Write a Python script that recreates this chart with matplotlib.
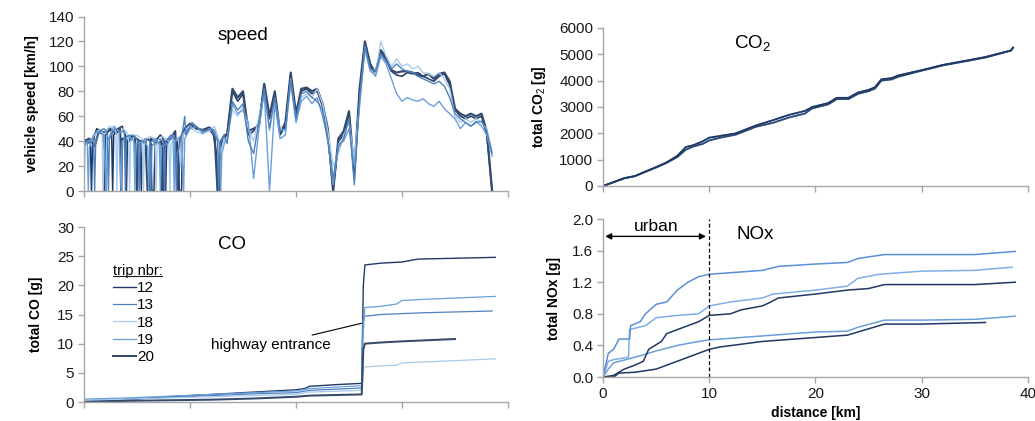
import numpy as np
import matplotlib
matplotlib.use("Agg")
import matplotlib.pyplot as plt
from matplotlib.lines import Line2D

plt.rcParams['font.family'] = ['Liberation Sans', 'DejaVu Sans']
plt.rcParams['mathtext.fontset'] = 'custom'
plt.rcParams['mathtext.rm'] = 'Liberation Sans'
plt.rcParams['mathtext.it'] = 'Liberation Sans:italic'
plt.rcParams['mathtext.bf'] = 'Liberation Sans:bold'

# trips and colours
trips = ["12", "13", "18", "19", "20"]
trip_colors = {"12": "#1f3864", "13": "#4f81bd", "18": "#a9cbec",
               "19": "#6a9fdc", "20": "#34496b"}
trip_widths = {"12": 1.1, "13": 1.0, "18": 1.0, "19": 1.0, "20": 1.6}

# speed, urban part (0 .. 13.3 km): (km, km/h) pairs, stops show as drops to 0
speed_urban = {
    "12": [(0, 40), (0.3, 38), (0.6, 40), (0.7, 0), (0.8, 35), (1.0, 45), (1.2, 50), (1.6, 48),
           (2.0, 47), (2.3, 50), (2.6, 48), (2.7, 0), (2.8, 45), (3.2, 50), (3.6, 52), (3.9, 45),
           (4.0, 0), (4.1, 40), (4.5, 44), (5.0, 42), (5.3, 40), (5.4, 0), (5.5, 38), (6.0, 42),
           (6.3, 40), (6.4, 0), (6.6, 0), (6.7, 40), (7.2, 45), (7.6, 40), (7.7, 0), (7.8, 38),
           (8.3, 44), (8.8, 40), (9.0, 0), (9.2, 0), (9.3, 45), (9.8, 50), (10.5, 52), (11.2, 48),
           (11.8, 50), (12.2, 45), (12.5, 30), (12.6, 0), (12.7, 0), (12.8, 35), (13.2, 42)],
    "13": [(0, 38), (0.4, 40), (0.9, 42), (1.0, 0), (1.1, 40), (1.5, 48), (1.9, 50), (2.2, 46),
           (2.3, 0), (2.4, 42), (2.9, 50), (3.4, 47), (3.8, 48), (3.9, 0), (4.0, 44), (4.6, 45),
           (5.1, 40), (5.2, 0), (5.3, 38), (5.8, 42), (6.2, 40), (6.3, 0), (6.4, 36), (7.0, 42),
           (7.5, 40), (7.6, 0), (7.7, 40), (8.2, 45), (8.6, 42), (8.7, 0), (8.8, 30), (9.3, 48),
           (9.5, 60), (9.6, 45), (10.2, 55), (10.8, 50), (11.4, 48), (12.0, 50), (12.6, 40),
           (12.7, 0), (12.8, 38), (13.2, 45)],
    "18": [(0, 0), (0.1, 38), (0.5, 40), (1.3, 48), (1.7, 50), (1.8, 0), (1.9, 45), (2.4, 52),
           (3.0, 48), (3.1, 0), (3.2, 45), (3.7, 50), (4.2, 45), (4.3, 0), (4.4, 40), (4.9, 45),
           (5.5, 42), (5.6, 0), (5.7, 40), (6.2, 44), (6.7, 42), (6.8, 0), (6.9, 38), (7.4, 44),
           (8.0, 40), (8.1, 0), (8.2, 38), (8.9, 42), (9.1, 20), (9.3, 45), (9.9, 52), (10.5, 48),
           (11.1, 46), (11.8, 48), (12.3, 52), (12.6, 45), (12.9, 30), (13.2, 42)],
    "19": [(0, 35), (0.3, 40), (0.4, 0), (0.5, 35), (0.9, 45), (1.3, 48), (1.9, 45), (2.1, 0),
           (2.2, 40), (2.8, 52), (3.3, 48), (3.5, 0), (3.6, 40), (4.2, 44), (4.7, 40), (4.8, 0),
           (4.9, 38), (5.6, 40), (6.0, 36), (6.1, 0), (6.2, 38), (6.7, 42), (7.1, 38), (7.2, 0),
           (7.3, 36), (7.9, 38), (8.4, 45), (8.5, 0), (8.6, 40), (9.2, 45), (9.4, 0), (9.5, 42),
           (10.0, 50), (10.6, 52), (11.2, 46), (11.8, 50), (12.3, 48), (12.8, 38), (12.9, 0),
           (13.0, 30), (13.3, 40)],
    "20": [(0, 40), (0.5, 42), (1.0, 36), (1.4, 48), (1.8, 45), (1.9, 0), (2.0, 45), (2.5, 50),
           (3.0, 46), (3.4, 50), (3.5, 0), (3.6, 42), (4.3, 40), (4.8, 44), (5.0, 0), (5.1, 40),
           (5.8, 40), (6.0, 0), (6.2, 0), (6.3, 42), (6.9, 38), (7.3, 40), (7.4, 0), (7.5, 38),
           (8.2, 42), (8.6, 48), (8.9, 0), (9.0, 40), (9.5, 50), (10.0, 54), (10.6, 50),
           (11.2, 49), (11.8, 51), (12.3, 48), (12.6, 0), (12.8, 0), (12.9, 40), (13.3, 45)],
}

# speed, rest of the trip sampled every 0.5 km (13.5 .. 38.5 km)
speed_rest_km = np.arange(13.5, 38.75, 0.5)
speed_rest = {
    "12": [45,
           80, 72, 78, 45, 48, 55, 85, 58, 78, 45, 52,
           93, 60, 80, 82, 78, 80, 68, 45, 0, 40, 45, 62, 10, 80,
           118, 100, 95, 112, 105, 96, 93, 92, 95, 94, 95, 92, 90, 88, 92, 94, 85,
           65, 60, 58, 60, 58, 60, 45, 0],
    "13": [38,
           72, 65, 70, 40, 30, 55, 82, 50, 75, 48, 50,
           88, 58, 78, 80, 75, 72, 65, 40, 10, 35, 42, 58, 5, 75,
           115, 98, 96, 110, 104, 98, 102, 98, 96, 95, 92, 90, 88, 86, 88, 84, 75,
           62, 58, 55, 52, 55, 56, 48, 30],
    "18": [42,
           65, 60, 68, 50, 40, 60, 78, 48, 72, 50, 48,
           85, 55, 75, 78, 75, 82, 70, 48, 20, 30, 45, 55, 25, 70,
           112, 96, 94, 120, 108, 100, 106, 100, 102, 98, 100, 95, 94, 92, 95, 90, 82,
           60, 55, 58, 55, 58, 55, 50, 32],
    "19": [40,
           70, 62, 65, 55, 10, 50, 80, 0, 70, 42, 45,
           90, 55, 72, 76, 70, 75, 60, 42, 5, 38, 40, 50, 20, 68,
           116, 97, 92, 108, 102, 90, 78, 72, 75, 73, 72, 74, 70, 68, 72, 66, 62,
           58, 50, 55, 52, 56, 52, 45, 28],
    "20": [45,
           82, 75, 80, 48, 50, 52, 86, 60, 80, 46, 55,
           95, 62, 82, 83, 80, 82, 70, 50, 0, 42, 48, 64, 15, 82,
           120, 102, 94, 113, 107, 97, 95, 96, 96, 95, 93, 92, 94, 90, 94, 95, 88,
           66, 62, 60, 62, 60, 62, 48, 0],
}

# cumulative CO [g]
co_km = {
    "12": [0, 4, 8, 12, 16, 20, 20.8, 21.3, 24, 26.2, 26.35, 26.5, 28, 30, 31.5, 34, 38.8],
    "13": [0, 4, 8, 12, 16, 20, 21.3, 26.2, 26.3, 26.5, 28, 32, 38.5],
    "18": [0, 4, 8, 12, 16, 20, 21.3, 26.2, 26.4, 28, 29.5, 30, 38.8],
    "19": [0, 4, 8, 12, 16, 20, 21.3, 26.2, 26.35, 26.5, 28, 29.5, 30, 32, 38.8],
    "20": [0, 4, 8, 12, 16, 20, 21.3, 26.2, 26.35, 26.5, 28, 30, 35],
}
co_total = {
    "12": [0.0, 0.4, 0.9, 1.3, 1.7, 2.1, 2.3, 2.7, 3.0, 3.2, 20.0, 23.5, 23.8, 24.0, 24.5, 24.6, 24.8],
    "13": [0.2, 0.5, 0.8, 1.1, 1.4, 1.6, 2.0, 2.4, 14.0, 14.7, 15.0, 15.3, 15.6],
    "18": [0.3, 0.5, 0.7, 0.9, 1.1, 1.3, 1.7, 2.0, 6.0, 6.2, 6.3, 6.7, 7.4],
    "19": [0.5, 0.7, 1.0, 1.3, 1.6, 1.9, 2.3, 2.8, 12.0, 16.2, 16.4, 16.8, 17.4, 17.6, 18.1],
    "20": [0.0, 0.2, 0.3, 0.4, 0.6, 0.9, 1.1, 1.3, 9.0, 10.0, 10.2, 10.4, 10.8],
}

# cumulative CO2 [g]
co2_km = [0, 1, 2, 3, 4, 5, 6, 7, 7.8, 8.5, 9.4, 10, 11, 12.5, 14.4, 16, 17.5, 19,
          19.7, 21.2, 22, 23.1, 24, 25, 25.6, 26.2, 27.2, 27.8, 30, 32, 34.7, 36, 38.4, 38.6]
co2_upper = [0, 150, 300, 380, 550, 720, 900, 1150, 1480, 1550, 1700, 1835, 1900, 2000,
             2300, 2500, 2700, 2850, 3000, 3150, 3350, 3350, 3550, 3650, 3750, 4050,
             4100, 4200, 4400, 4600, 4800, 4900, 5150, 5260]
co2_lower = [0, 140, 290, 370, 540, 700, 880, 1100, 1380, 1500, 1600, 1730, 1830, 1950,
             2250, 2400, 2600, 2750, 2950, 3100, 3300, 3300, 3500, 3600, 3700, 4000,
             4050, 4150, 4380, 4580, 4780, 4880, 5140, 5250]
co2_total = {"12": co2_upper, "13": co2_upper, "18": co2_lower,
             "19": co2_lower, "20": co2_lower}

# cumulative NOx [g]
nox_km = {
    "13": [0, 0.5, 1, 1.5, 2.5, 2.6, 3.5, 4, 5, 6, 7, 8, 9, 10, 12, 15, 16.5, 20, 23, 24,
           26.5, 30, 35, 38.8],
    "19": [0, 0.5, 1, 2.4, 2.5, 4, 5, 7, 9, 9.5, 10, 12, 15, 16, 20, 23, 24, 26, 30, 35, 38.5],
    "12": [0, 1, 2, 3, 3.8, 4.3, 5.5, 6, 7, 8, 9, 10, 12, 13, 15, 15.8, 16.5, 20, 23, 25,
           26.5, 30, 35, 38.8],
    "18": [0, 0.5, 1, 3, 5, 7, 9, 10, 15, 20, 23, 24, 26.5, 30, 35, 38.8],
    "20": [0, 1, 1.5, 3, 5, 7, 9, 10, 11, 15, 20, 23, 24, 26.5, 30, 36],
}
nox_total = {
    "13": [0, 0.3, 0.35, 0.48, 0.48, 0.65, 0.7, 0.8, 0.92, 0.95, 1.1, 1.2, 1.27, 1.3, 1.32,
           1.35, 1.4, 1.43, 1.45, 1.5, 1.55, 1.55, 1.55, 1.59],
    "19": [0, 0.2, 0.22, 0.25, 0.6, 0.65, 0.75, 0.78, 0.8, 0.85, 0.9, 0.95, 1.0, 1.05, 1.1,
           1.15, 1.25, 1.3, 1.34, 1.35, 1.39],
    "12": [0, 0.02, 0.1, 0.15, 0.2, 0.35, 0.45, 0.55, 0.6, 0.65, 0.7, 0.78, 0.8, 0.85, 0.9,
           0.95, 1.0, 1.05, 1.1, 1.12, 1.17, 1.17, 1.17, 1.2],
    "18": [0, 0.1, 0.18, 0.25, 0.33, 0.4, 0.45, 0.47, 0.52, 0.57, 0.58, 0.63, 0.72, 0.72,
           0.73, 0.77],
    "20": [0, 0.0, 0.05, 0.06, 0.1, 0.2, 0.3, 0.35, 0.38, 0.45, 0.5, 0.53, 0.57, 0.67,
           0.67, 0.69],
}
nox_colors = {"13": "#5b8fd6", "19": "#7eaee6", "12": "#1f3864", "18": "#6a9fdc", "20": "#1f3864"}

AXIS_GRAY = "#a6a6a6"


def style_axes(ax, yticks, show_xlabels=False):
    for side in ("top", "right"):
        ax.spines[side].set_visible(False)
    for side in ("left", "bottom"):
        ax.spines[side].set_color(AXIS_GRAY)
        ax.spines[side].set_linewidth(1.0)
    ax.set_xlim(0, 40)
    ax.set_xticks([0, 10, 20, 30, 40])
    ax.set_yticks(yticks)
    ax.set_ylim(yticks[0], yticks[-1])
    ax.tick_params(direction="out", length=4, width=1, color=AXIS_GRAY,
                   labelsize=11, labelcolor="#1a1a1a", pad=3)
    ax.tick_params(axis="x", labelbottom=show_xlabels)


fig = plt.figure(figsize=(10.35, 4.21), dpi=100)
ax_speed = fig.add_axes([0.0812, 0.5463, 0.4096, 0.4145])
ax_co = fig.add_axes([0.0812, 0.0451, 0.4096, 0.4157])
ax_co2 = fig.add_axes([0.5826, 0.5582, 0.4106, 0.3753])
ax_nox = fig.add_axes([0.5826, 0.1045, 0.4106, 0.3753])

# speed
for t in ["12", "20", "18", "19", "13"]:
    urban_km, urban_v = zip(*speed_urban[t])
    km = list(urban_km) + list(speed_rest_km)
    v = list(urban_v) + speed_rest[t]
    ax_speed.plot(km, v, color=trip_colors[t], lw=trip_widths[t])
style_axes(ax_speed, list(range(0, 141, 20)))
ax_speed.set_ylabel("vehicle speed [km/h]", fontsize=10, fontweight="bold", labelpad=7)
ax_speed.text(15, 125, "speed", fontsize=13.5, ha="center", va="center")

# CO
for t in trips:
    ax_co.plot(co_km[t], co_total[t], color=trip_colors[t], lw=trip_widths[t] * 0.9, label=t)
style_axes(ax_co, list(range(0, 31, 5)))
ax_co.set_ylabel("total CO [g]", fontsize=10, fontweight="bold", labelpad=10)
ax_co.text(14, 27, "CO", fontsize=13.5, ha="center", va="center")
ax_co.annotate("highway entrance", xy=(26.2, 13.5), xytext=(23.3, 9.8),
               fontsize=11, ha="right", va="center",
               arrowprops=dict(arrowstyle="-", color="black", lw=0.8,
                               shrinkA=0, shrinkB=0))
leg = ax_co.legend(title="trip nbr:", loc="upper left",
                   bbox_to_anchor=(0.035, 0.87), frameon=False, fontsize=11,
                   title_fontsize=10.5, handlelength=1.5, handletextpad=0.1,
                   labelspacing=0.22, alignment="left")

# CO2
for t in ["18", "19", "13", "20", "12"]:
    ax_co2.plot(co2_km, co2_total[t], color=trip_colors[t], lw=1.2)
style_axes(ax_co2, list(range(0, 6001, 1000)))
ax_co2.set_ylabel(r"total CO$_2$ [g]", fontsize=10, fontweight="bold", labelpad=8)
ax_co2.text(14.1, 5430, r"CO$_2$", fontsize=13.5, ha="center", va="center")

# NOx
for t in ["18", "20", "12", "19", "13"]:
    ax_nox.plot(nox_km[t], nox_total[t], color=nox_colors[t], lw=1.1)
style_axes(ax_nox, [0.0, 0.4, 0.8, 1.2, 1.6, 2.0], show_xlabels=True)
ax_nox.set_yticklabels(["0.0", "0.4", "0.8", "1.2", "1.6", "2.0"])
ax_nox.set_ylabel("total NOx [g]", fontsize=10, fontweight="bold", labelpad=8)
ax_nox.set_xlabel("distance [km]", fontsize=10, fontweight="bold", labelpad=4)
ax_nox.axvline(10, color="black", lw=0.9, ls=(0, (3, 2)))
ax_nox.annotate("", xy=(0.2, 1.78), xytext=(9.7, 1.78),
                arrowprops=dict(arrowstyle="<|-|>", color="black", lw=1.0,
                                mutation_scale=9, shrinkA=0, shrinkB=0))
ax_nox.text(5, 1.9, "urban", fontsize=12.5, ha="center", va="center")
ax_nox.text(14.3, 1.8, "NOx", fontsize=13.5, ha="center", va="center")

# underline the legend title
fig.canvas.draw()
bb = leg.get_title().get_window_extent().transformed(fig.transFigure.inverted())
fig.add_artist(Line2D([bb.x0, bb.x1], [bb.y0 + 0.004, bb.y0 + 0.004],
                      transform=fig.transFigure, color="#1a1a1a", lw=0.8))

fig.savefig("out.png", dpi=100)
